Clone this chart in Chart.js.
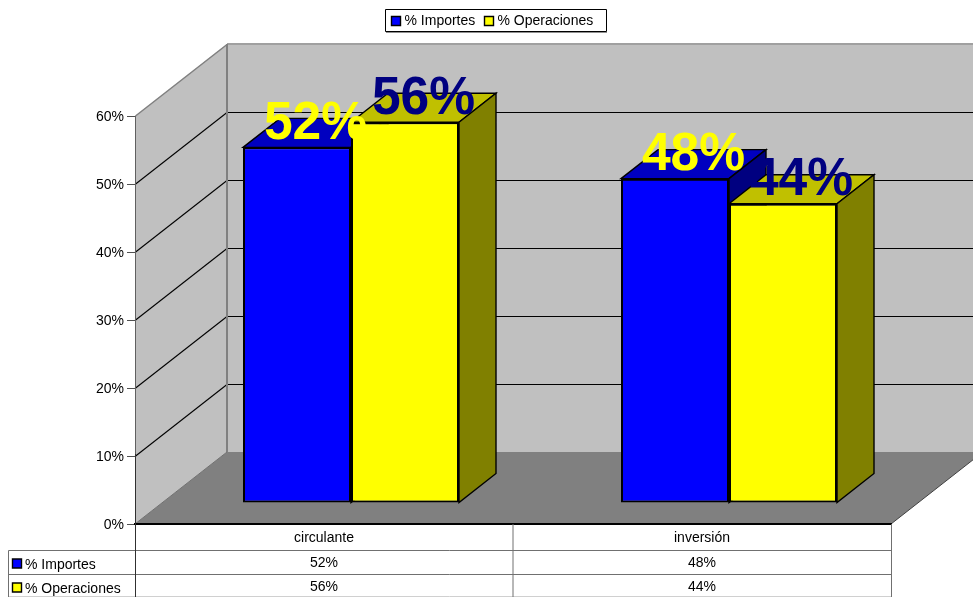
<!DOCTYPE html>
<html>
<head>
<meta charset="utf-8">
<style>html,body{margin:0;padding:0;background:#fff;overflow:hidden}canvas{display:block}</style>
<script src="https://cdn.jsdelivr.net/npm/chart.js@4/dist/chart.umd.min.js"></script>
</head>
<body>
<canvas id="c" width="973" height="597"></canvas>
<script>
const categories = ['circulante', 'inversión'];
const seriesNames = ['% Importes', '% Operaciones'];
const importes = [52.3, 47.7];
const operaciones = [56, 44];
const yTicks = [0, 10, 20, 30, 40, 50, 60];

const FONT = '"Liberation Sans", Arial, sans-serif';
const WALL = {dx: 92, dy: 72};
const BAR_SHIFT = {dx: 27, dy: 21};
const BAR_DEPTH = {dx: 37, dy: 29};
const styles = [
  {front: '#0000ff', top: '#0000c0', side: '#000080', label: '#ffff00'},
  {front: '#ffff00', top: '#c0c000', side: '#808000', label: '#000080'}
];
const pct = v => Math.round(v) + '%';

function poly(ctx, pts, fill, stroke, lw) {
  ctx.beginPath();
  pts.forEach((p, i) => i ? ctx.lineTo(p[0], p[1]) : ctx.moveTo(p[0], p[1]));
  ctx.closePath();
  if (fill) { ctx.fillStyle = fill; ctx.fill(); }
  if (stroke) { ctx.strokeStyle = stroke; ctx.lineWidth = lw || 1; ctx.stroke(); }
}
function seg(ctx, x1, y1, x2, y2, color, lw) {
  ctx.beginPath(); ctx.moveTo(x1, y1); ctx.lineTo(x2, y2);
  ctx.strokeStyle = color; ctx.lineWidth = lw || 1; ctx.stroke();
}

const scene3d = {
  id: 'scene3d',
  beforeDraw(chart) {
    const {ctx, chartArea: a, scales: {y}} = chart;
    const W = chart.width;
    const bx = a.left + WALL.dx, top = a.top - WALL.dy, by = a.bottom - WALL.dy;
    ctx.save();
    poly(ctx, [[a.left, a.top], [bx, top], [bx, by], [a.left, a.bottom]], '#c0c0c0');
    poly(ctx, [[bx, top], [W + 2, top], [W + 2, by], [bx, by]], '#c0c0c0');
    poly(ctx, [[a.left, a.bottom], [bx, by], [a.right + WALL.dx, by], [a.right, a.bottom]], '#808080');
    yTicks.forEach(v => {
      if (v === 0 || v === 60) return;
      const p = Math.round(y.getPixelForValue(v)) + 0.5;
      seg(ctx, a.left, p, bx, p - WALL.dy, '#000', 1.1);
      seg(ctx, bx, p - WALL.dy, W, p - WALL.dy, '#000');
    });
    seg(ctx, a.left + .5, a.top, bx, top + .5, '#808080', 1.5);
    seg(ctx, bx, top, W, top, '#a0a0a0', 2);
    seg(ctx, bx, top, bx, by, '#808080', 2);
    seg(ctx, a.left, a.bottom, bx, by, '#707070', 1);
    seg(ctx, a.right, a.bottom, a.right + WALL.dx, by, '#404040', 1);
    ctx.restore();
  },
  beforeDatasetsDraw(chart) {
    const {ctx} = chart;
    const d = BAR_DEPTH;
    ctx.save();
    ctx.translate(BAR_SHIFT.dx, -BAR_SHIFT.dy);
    chart.data.datasets.forEach((ds, i) => {
      const s = styles[i];
      chart.getDatasetMeta(i).data.forEach(b => {
        const l = b.x - b.width / 2, r = b.x + b.width / 2, t = b.y, bs = b.base;
        poly(ctx, [[l, t], [l + d.dx, t - d.dy], [r + d.dx, t - d.dy], [r, t]], s.top, '#000', 1.4);
        poly(ctx, [[r, t], [r + d.dx, t - d.dy], [r + d.dx, bs - d.dy], [r, bs]], s.side, '#000', 1.4);
      });
    });
    ctx.restore();
  },
  beforeDatasetDraw(chart) {
    chart.ctx.save();
    chart.ctx.translate(BAR_SHIFT.dx, -BAR_SHIFT.dy);
  },
  afterDatasetDraw(chart) {
    chart.ctx.restore();
  },
  afterDatasetsDraw(chart) {
    const {ctx} = chart;
    ctx.save();
    ctx.font = 'bold 54px ' + FONT;
    ctx.textAlign = 'center';
    ctx.textBaseline = 'alphabetic';
    chart.data.datasets.forEach((ds, i) => {
      const meta = chart.getDatasetMeta(i);
      ctx.fillStyle = styles[i].label;
      meta.data.forEach((b, j) => {
        ctx.save();
        ctx.translate(b.x + BAR_SHIFT.dx + BAR_DEPTH.dx / 2, b.y - BAR_SHIFT.dy - 8.5);
        ctx.scale(0.955, 1);
        ctx.fillText(pct(ds.data[j]), 0, 0);
        ctx.restore();
      });
    });
    ctx.restore();
  },
  afterDraw(chart) {
    const {ctx, chartArea: a, scales: {x}} = chart;
    const rows = [550.5, 574.5, 596.5];
    const rowText = [564, 588];
    const rowKey = [563.5, 587.5];
    const left = 8.5, H = chart.height;
    const mid = (x.getPixelForValue(0) + x.getPixelForValue(1)) / 2;
    ctx.save();
    // data table
    seg(ctx, left, rows[0], a.right, rows[0], '#707070');
    seg(ctx, left, rows[1], a.right, rows[1], '#707070');
    seg(ctx, left, rows[2], a.right, rows[2], '#d0d0d0');
    seg(ctx, left, rows[0], left, H, '#707070');
    seg(ctx, mid, a.bottom, mid, H, '#707070');
    seg(ctx, a.right + .5, a.bottom, a.right + .5, H, '#707070');
    seg(ctx, a.left + .5, a.bottom - 70, a.left + .5, H, '#303030');
    ctx.font = '14px ' + FONT;
    ctx.textBaseline = 'middle';
    chart.data.datasets.forEach((ds, i) => {
      const cy = rowText[i], ky = rowKey[i];
      poly(ctx, [[12.5, ky - 4.5], [21.5, ky - 4.5], [21.5, ky + 4.5], [12.5, ky + 4.5]], styles[i].front, '#000', 1.4);
      ctx.fillStyle = '#000';
      ctx.textAlign = 'left';
      ctx.fillText(ds.label, 25, cy + 1);
      ctx.textAlign = 'center';
      ds.data.forEach((v, j) => ctx.fillText(pct(v), x.getPixelForValue(j), cy - 1));
    });
    // legend
    poly(ctx, [[385.5, 9.5], [606.5, 9.5], [606.5, 31.5], [385.5, 31.5]], '#fff', '#000', 1);
    seg(ctx, 386, 32.5, 607, 32.5, '#909090');
    const keys = [391.5, 484.5];
    chart.data.datasets.forEach((ds, i) => {
      poly(ctx, [[keys[i], 16.5], [keys[i] + 9, 16.5], [keys[i] + 9, 25.5], [keys[i], 25.5]], styles[i].front, '#000', 1.4);
      ctx.fillStyle = '#000';
      ctx.textAlign = 'left';
      ctx.fillText(ds.label, keys[i] + 13, 21.5);
    });
    ctx.restore();
  }
};

new Chart(document.getElementById('c'), {
  type: 'bar',
  data: {
    labels: categories,
    datasets: [
      {label: seriesNames[0], data: importes, backgroundColor: styles[0].front, borderColor: '#000', borderWidth: 2, borderSkipped: false, clip: false},
      {label: seriesNames[1], data: operaciones, backgroundColor: styles[1].front, borderColor: '#000', borderWidth: 2, borderSkipped: false, clip: false}
    ]
  },
  options: {
    responsive: false,
    animation: false,
    layout: {padding: {top: 116, right: 82, left: 0, bottom: 0}},
    datasets: {bar: {barPercentage: 1, categoryPercentage: 216 / 378}},
    plugins: {legend: {display: false}, tooltip: {enabled: false}, title: {display: false}},
    scales: {
      x: {
        afterFit(s) { s.height = 73; },
        grid: {display: false, drawTicks: false},
        border: {color: '#000', width: 2},
        ticks: {color: '#000', font: {family: FONT, size: 14}, padding: 6, maxRotation: 0, autoSkip: false}
      },
      y: {
        min: 0, max: 60,
        afterFit(s) { s.width = 135; },
        afterBuildTicks(s) { s.ticks = yTicks.map(v => ({value: v})); },
        grid: {drawOnChartArea: false, tickLength: 8, color: '#505050'},
        border: {color: '#606060', width: 1},
        ticks: {color: '#000', font: {family: FONT, size: 14}, padding: 3, labelOffset: 1.5, callback: pct}
      }
    }
  },
  plugins: [scene3d]
});
</script>
</body>
</html>
